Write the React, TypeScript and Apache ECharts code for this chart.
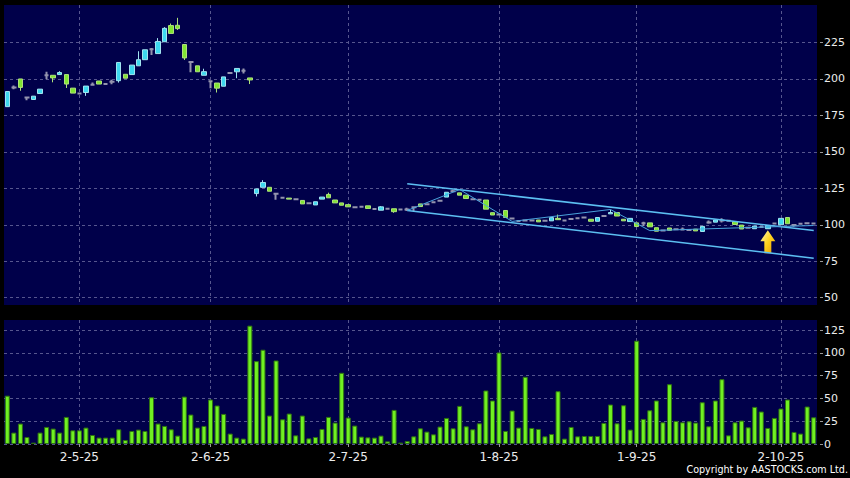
import React, { useEffect, useRef } from 'react';
import * as echarts from 'echarts';

// ---- data ----
const opens = [
  181, 194.2, 200, 187.3, 185.9, 190, 202.5, 202.5, 203, 203,
  193.7, 190, 190.7, 196, 198.6, 196.5, 198, 198.8, 203.2, 203,
  209, 213.2, 220.4, 217.4, 225.5, 236.6, 236.8, 223.6, 211.6, 209,
  202.5, 198.5, 197.2, 195, 204, 204.9, 205.6, 200.7,
  121.4, 125.7, 125.7, 121.2, 118.5, 118.3, 117.5, 116.7, 114.7, 113.6,
  117.6, 120.8, 117, 115, 113.8, 112, 112.3, 113, 110.8, 110,
  111, 111, 110.5, 110.5, 112, 114.3, 114, 115.5, 116.5, 119,
  123, 121.9, 120.3, 117.5, 117.2, 117, 108.3, 107, 109.8, 104.3,
  102.6, 103, 103, 103.3, 102.7, 102.7, 104.4, 103, 104, 104.5,
  105, 103.8, 102.4, 106, 107.5, 108.4, 103.8, 102.2, 101.3, 101,
  101.3, 98, 96, 97.8, 96.9, 96.8, 96.5, 97, 95.4, 101.6,
  101.8, 102.9, 102.7, 102.2, 99.8, 98, 97.3, 98.5, 97.3, 100.8,
  100, 105, 99.8, 100.7, 101, 100.8
];
const closes = [
  191.4, 194.2, 194.2, 187.3, 188.2, 193, 202.5, 200.7, 204.4, 196.5,
  190.3, 190, 195.1, 196, 196.5, 196.5, 198, 211.3, 200.5, 209.5,
  213.2, 220, 220.4, 225.7, 234.7, 231.2, 234.5, 214.4, 211.6, 204.9,
  205, 198.5, 193.7, 201.4, 204, 207.2, 205.6, 199.3,
  124.6, 129, 123, 121.2, 118.5, 117.6, 117.5, 114.3, 114.7, 115.8,
  119, 118.5, 115, 113.4, 112.3, 112, 112.3, 111.2, 110.8, 112.3,
  111, 109, 110.5, 110.5, 112, 112.5, 114, 115.5, 116.5, 122.3,
  123, 120.3, 118, 117.5, 117.2, 110.7, 106.7, 107, 105, 104.3,
  102.6, 103, 103, 102, 102.7, 104.9, 103.5, 103, 104, 104.5,
  105, 102.4, 105, 106, 108.4, 106, 102.7, 104.4, 98.8, 101,
  98.6, 95.6, 96, 96.2, 96.9, 96.8, 96.5, 95.8, 98.9, 101.6,
  103.3, 102.9, 102.7, 100.2, 97.1, 98, 99.1, 98.5, 99.5, 100.8,
  104.4, 100.7, 99.8, 100.7, 101, 100.8
];
const lows = [
  181, 193, 191.9, 185.4, 185.9, 190, 199.8, 197.7, 203, 193.8,
  190.3, 190, 188.4, 196, 196.5, 196.5, 196.3, 197.5, 200.5, 203,
  209, 213.2, 216.5, 217.4, 225.5, 231.2, 233.6, 213, 204.6, 204.9,
  202.5, 193.7, 190.7, 195, 204, 200.5, 203.7, 196.5,
  119.4, 125.7, 123, 117.2, 118.5, 117.6, 117.5, 114.3, 114.7, 113.6,
  117.6, 118.5, 115, 113.4, 112.3, 111.3, 112.3, 111.2, 110.8, 110,
  111, 108.2, 110.5, 109.4, 109.4, 112.5, 114, 115.5, 116.5, 119,
  123, 120.3, 118, 117.5, 117.2, 110.7, 106.7, 107, 105, 104.3,
  102.6, 103, 103, 102, 102.7, 102.7, 103.5, 103, 104, 104.5,
  105, 102.4, 102.4, 106, 107.5, 106, 102.7, 102.2, 98.8, 99.2,
  98.6, 95.6, 96, 96.2, 96.9, 96.8, 96.5, 95.8, 95.4, 100.7,
  101.8, 101.6, 102.7, 100.2, 97.1, 98, 97.3, 98.5, 97.3, 100.8,
  100, 100.7, 98.6, 100.7, 101, 100.8
];
const highs = [
  191.4, 195.5, 200, 187.8, 188.2, 193, 205, 202.5, 205.3, 203,
  193.7, 190.5, 195.1, 197.5, 198.6, 196.5, 199.4, 211.3, 203.2, 209.5,
  219, 220, 221.3, 228, 235.5, 238, 241.9, 223.6, 211.6, 209,
  207, 198.5, 197.2, 201.4, 204, 207.2, 207.2, 200.7,
  124.6, 130.6, 125.7, 121.2, 118.5, 118.3, 117.5, 116.7, 114.7, 115.8,
  119, 122, 117, 115, 113.8, 112.6, 112.3, 113, 110.8, 112.8,
  111, 111, 110.5, 111.6, 112, 114.3, 114, 115.5, 116.5, 122.3,
  124, 121.9, 120.3, 117.5, 117.2, 117, 108.3, 107, 109.8, 104.3,
  102.6, 103, 103, 103.3, 102.7, 104.9, 107, 103, 104, 104.5,
  105, 103.8, 105, 106, 110.4, 108.4, 103.8, 104.4, 101.3, 102,
  101.3, 98, 96, 97.8, 96.9, 98.1, 96.5, 97, 98.9, 102.9,
  103.3, 104.4, 102.7, 102.2, 99.8, 98, 99.1, 98.5, 99.5, 100.8,
  104.4, 105, 99.8, 100.7, 101.5, 100.8
];
const volumes = [
  53, 12.5, 22.4, 7.7, 1.5, 12.5, 18.7, 16.9, 12.5, 29.7,
  15, 15, 18, 9.9, 7, 7, 7, 16.1, 4.4, 14.3,
  15.8, 14.3, 51.3, 22.4, 19.8, 16.1, 9.2, 52, 32.3, 18,
  19.8, 48.8, 42.2, 33, 11.4, 7, 5.9, 129.8, 90.9, 103.4,
  31.2, 91.6, 27.1, 33.4, 9.5, 31.2, 6.2, 7.7, 16.5, 29.7,
  23.5, 78.1, 29, 20.2, 8.1, 7.3, 7, 9.2, 2.9, 37.4,
  1.5, 3.3, 8.4, 17.2, 13.6, 10.6, 19.1, 28.6, 17.2, 41.8,
  19.4, 16.1, 22.7, 58.7, 47.7, 100.4, 14.3, 36.7, 18, 73.7,
  17.6, 16.5, 8.4, 11, 57.9, 5.9, 18.7, 8.4, 8.8, 8.8,
  8.8, 23.1, 43.3, 22.7, 42.5, 15.8, 113.3, 27.5, 37, 47.7,
  23.8, 65.6, 25.3, 23.8, 24.9, 23.5, 45.8, 19.4, 47.7, 71.1,
  9.5, 23.8, 25.7, 18.3, 40.7, 35.6, 17.6, 28.6, 38.9, 48.8,
  13.2, 11.4, 41.1, 29.3
];
const tickIndex = [11, 31, 52, 75, 96, 118];
const tickLabels = ['2-5-25', '2-6-25', '2-7-25', '1-8-25', '1-9-25', '2-10-25'];
const priceTicks = [50, 75, 100, 125, 150, 175, 200, 225];
const volumeTicks = [0, 25, 50, 75, 100, 125];
const upperChannel = [[60.5, 128.1], [122.7, 96.1]];
const lowerChannel = [[60.5, 109.8], [122.7, 77.1]];
const trendPath = [[60.5, 109.8], [68.7, 124.2], [77.2, 102.3], [92, 110.5], [98.4, 96], [122.7, 99.5]];
const arrowPoint = [115.7, 88.4];

const BG = '#00004a';
const GRID_LINE = { color: '#56568e', width: 1, type: [3, 3] as number[] };
const FONT = 'DejaVu Sans';

export default function App() {
  const ref = useRef<HTMLDivElement>(null);
  useEffect(() => {
    if (!ref.current) return;
    const chart = echarts.init(ref.current, null, { renderer: 'svg' });
    const categories = volumes.map((_, i) => String(i));
    const isTick = (i: number) => tickIndex.indexOf(i) >= 0;
    const mainData = opens.map((o, i) =>
      o === closes[i] ? ['-', '-', '-', '-'] : [o, closes[i], lows[i], highs[i]]);
    const dojiData = opens.map((o, i) =>
      o === closes[i] ? [o, closes[i], lows[i], highs[i]] : ['-', '-', '-', '-']);

    const option: any = {
      animation: false,
      backgroundColor: '#000000',
      grid: [
        { left: 4, top: 5, width: 813, height: 300, show: true, backgroundColor: BG, borderWidth: 0 },
        { left: 4, top: 320, width: 813, height: 124, show: true, backgroundColor: BG, borderWidth: 0 },
      ],
      xAxis: [
        {
          type: 'category', gridIndex: 0, data: categories, boundaryGap: true,
          axisLine: { show: false }, axisTick: { show: false }, axisLabel: { show: false },
          splitLine: { show: true, interval: (i: number) => isTick(i), alignWithLabel: true, lineStyle: GRID_LINE },
        },
        {
          type: 'category', gridIndex: 1, data: categories, boundaryGap: true, offset: 2,
          axisLine: { show: false },
          axisTick: { show: true, alignWithLabel: true, interval: (i: number) => isTick(i), length: 3, lineStyle: { color: '#9a9a9a' } },
          axisLabel: {
            interval: (i: number) => isTick(i),
            formatter: (v: string) => { const k = tickIndex.indexOf(Number(v)); return k >= 0 ? tickLabels[k] : ''; },
            color: '#ececec', fontSize: 12, fontFamily: FONT, margin: 5,
          },
          splitLine: { show: true, interval: (i: number) => isTick(i), alignWithLabel: true, lineStyle: GRID_LINE },
        },
      ],
      yAxis: [
        {
          type: 'value', gridIndex: 0, position: 'right', min: 45, max: 250.7, offset: 3,
          axisLine: { show: false },
          axisTick: { show: true, length: 3, customValues: priceTicks, lineStyle: { color: '#9a9a9a' } },
          axisLabel: { customValues: priceTicks, color: '#ececec', fontSize: 11, fontFamily: FONT, margin: 4 },
          splitLine: { show: true, lineStyle: GRID_LINE },
        },
        {
          type: 'value', gridIndex: 1, position: 'right', min: 0, max: 136, offset: 3,
          axisLine: { show: false },
          axisTick: { show: true, length: 3, customValues: volumeTicks, lineStyle: { color: '#9a9a9a' } },
          axisLabel: { customValues: volumeTicks, color: '#ececec', fontSize: 11, fontFamily: FONT, margin: 4 },
          splitLine: { show: true, lineStyle: GRID_LINE },
        },
      ],
      series: [
        {
          type: 'candlestick', xAxisIndex: 0, yAxisIndex: 0, data: mainData, barWidth: 5,
          itemStyle: { color: '#3dd8ef', color0: '#80e632', borderColor: '#a2e4ef', borderColor0: '#aee07c', borderWidth: 1 },
        },
        {
          type: 'candlestick', xAxisIndex: 0, yAxisIndex: 0, data: dojiData, barWidth: 5,
          itemStyle: { color: '#9494ae', color0: '#9494ae', borderColor: '#9494ae', borderColor0: '#9494ae', borderColorDoji: '#9494ae', borderWidth: 2 },
        },
        {
          type: 'line', xAxisIndex: 0, yAxisIndex: 0, data: upperChannel, showSymbol: false, silent: true, z: 5,
          lineStyle: { color: '#5cbff2', width: 1.5 },
        },
        {
          type: 'line', xAxisIndex: 0, yAxisIndex: 0, data: lowerChannel, showSymbol: false, silent: true, z: 5,
          lineStyle: { color: '#5cbff2', width: 1.5 },
        },
        {
          type: 'line', xAxisIndex: 0, yAxisIndex: 0, data: trendPath, showSymbol: false, silent: true, z: 5,
          lineStyle: { color: '#4aa3dc', width: 1 },
          markPoint: {
            silent: true,
            symbol: 'path://M7.5,0 L15,11 L11,11 L11,23 L4,23 L4,11 L0,11 Z',
            symbolSize: [15, 23],
            label: { show: false },
            itemStyle: {
              color: new echarts.graphic.LinearGradient(0, 0, 1, 1, [
                { offset: 0, color: '#fff8b8' },
                { offset: 0.5, color: '#ffd21e' },
                { offset: 1, color: '#e59a00' },
              ]),
            },
            data: [{ coord: arrowPoint }],
          },
        },
        {
          type: 'bar', xAxisIndex: 1, yAxisIndex: 1, data: volumes, barWidth: 5,
          itemStyle: { color: '#70f022', borderColor: '#2f7212', borderWidth: 1 },
        },
      ],
      graphic: [
        {
          type: 'text', right: 2, top: 464,
          style: { text: 'Copyright by AASTOCKS.com Ltd.', fill: '#ffffff', font: `9.6px "${FONT}"` },
        },
      ],
    };
    chart.setOption(option);
    return () => chart.dispose();
  }, []);
  return <div ref={ref} style={{ position: 'fixed', left: 0, top: 0, width: 850, height: 478 }} />;
}
